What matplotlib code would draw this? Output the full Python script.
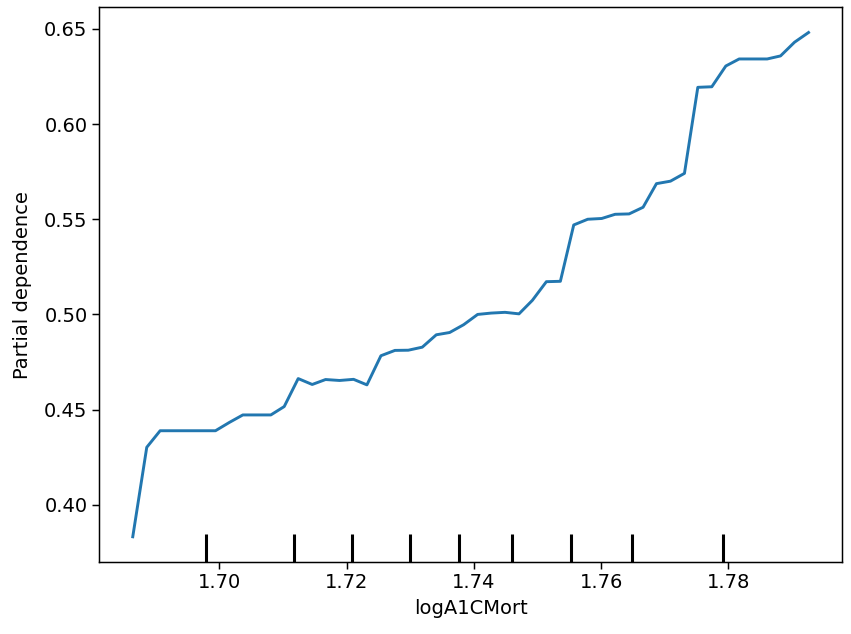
import matplotlib
matplotlib.use("Agg")
import matplotlib.pyplot as plt

# grid values of the feature (x) and averaged predictions (y)
grid = [1.6864, 1.6886, 1.6907, 1.6929, 1.6951, 1.6972, 1.6994, 1.7016, 1.7037, 1.7059,
        1.7081, 1.7102, 1.7124, 1.7146, 1.7167, 1.7189, 1.7211, 1.7232, 1.7254, 1.7276,
        1.7297, 1.7319, 1.7341, 1.7362, 1.7384, 1.7406, 1.7427, 1.7449, 1.7471, 1.7492,
        1.7514, 1.7536, 1.7557, 1.7579, 1.7601, 1.7622, 1.7644, 1.7666, 1.7687, 1.7709,
        1.7731, 1.7752, 1.7774, 1.7796, 1.7817, 1.7839, 1.7861, 1.7882, 1.7904, 1.7926]
pd_values = [0.3832, 0.4302, 0.4389, 0.4389, 0.4389, 0.4389, 0.4389, 0.4433, 0.4472, 0.4472,
             0.4472, 0.4516, 0.4663, 0.4632, 0.4658, 0.4653, 0.4659, 0.4630, 0.4783, 0.4811,
             0.4812, 0.4828, 0.4893, 0.4905, 0.4946, 0.5000, 0.5007, 0.5011, 0.5003, 0.5074,
             0.5172, 0.5174, 0.5470, 0.5500, 0.5504, 0.5526, 0.5528, 0.5563, 0.5687, 0.5700,
             0.5741, 0.6193, 0.6196, 0.6305, 0.6342, 0.6342, 0.6342, 0.6358, 0.6430, 0.6481]
deciles = [1.6979, 1.7117, 1.7209, 1.7299, 1.7377, 1.7460, 1.7552, 1.7649, 1.7792]
xticks = [1.70, 1.72, 1.74, 1.76, 1.78]
yticks = [0.40, 0.45, 0.50, 0.55, 0.60, 0.65]

fs = 14
fig = plt.figure(figsize=(8.51, 6.34), dpi=100)
ax = fig.add_axes([0.1163, 0.1136, 0.8735, 0.8749])

ax.plot(grid, pd_values, color="#2277b0", lw=2.1)
trans = matplotlib.transforms.blended_transform_factory(ax.transData, ax.transAxes)
ax.vlines(deciles, 0, 0.05, transform=trans, color="k", lw=2.2)

ax.set_xticks(xticks)
ax.set_xticklabels([f"{t:.2f}" for t in xticks])
ax.set_yticks(yticks)
ax.set_yticklabels([f"{t:.2f}" for t in yticks])
ax.tick_params(labelsize=fs, length=4.7, width=1.07)
for sp in ax.spines.values():
    sp.set_linewidth(1.07)
ax.set_xlabel("logA1CMort", fontsize=fs, labelpad=5)
ax.set_ylabel("Partial dependence", fontsize=fs, labelpad=9)

fig.savefig("out.png", dpi=100)
